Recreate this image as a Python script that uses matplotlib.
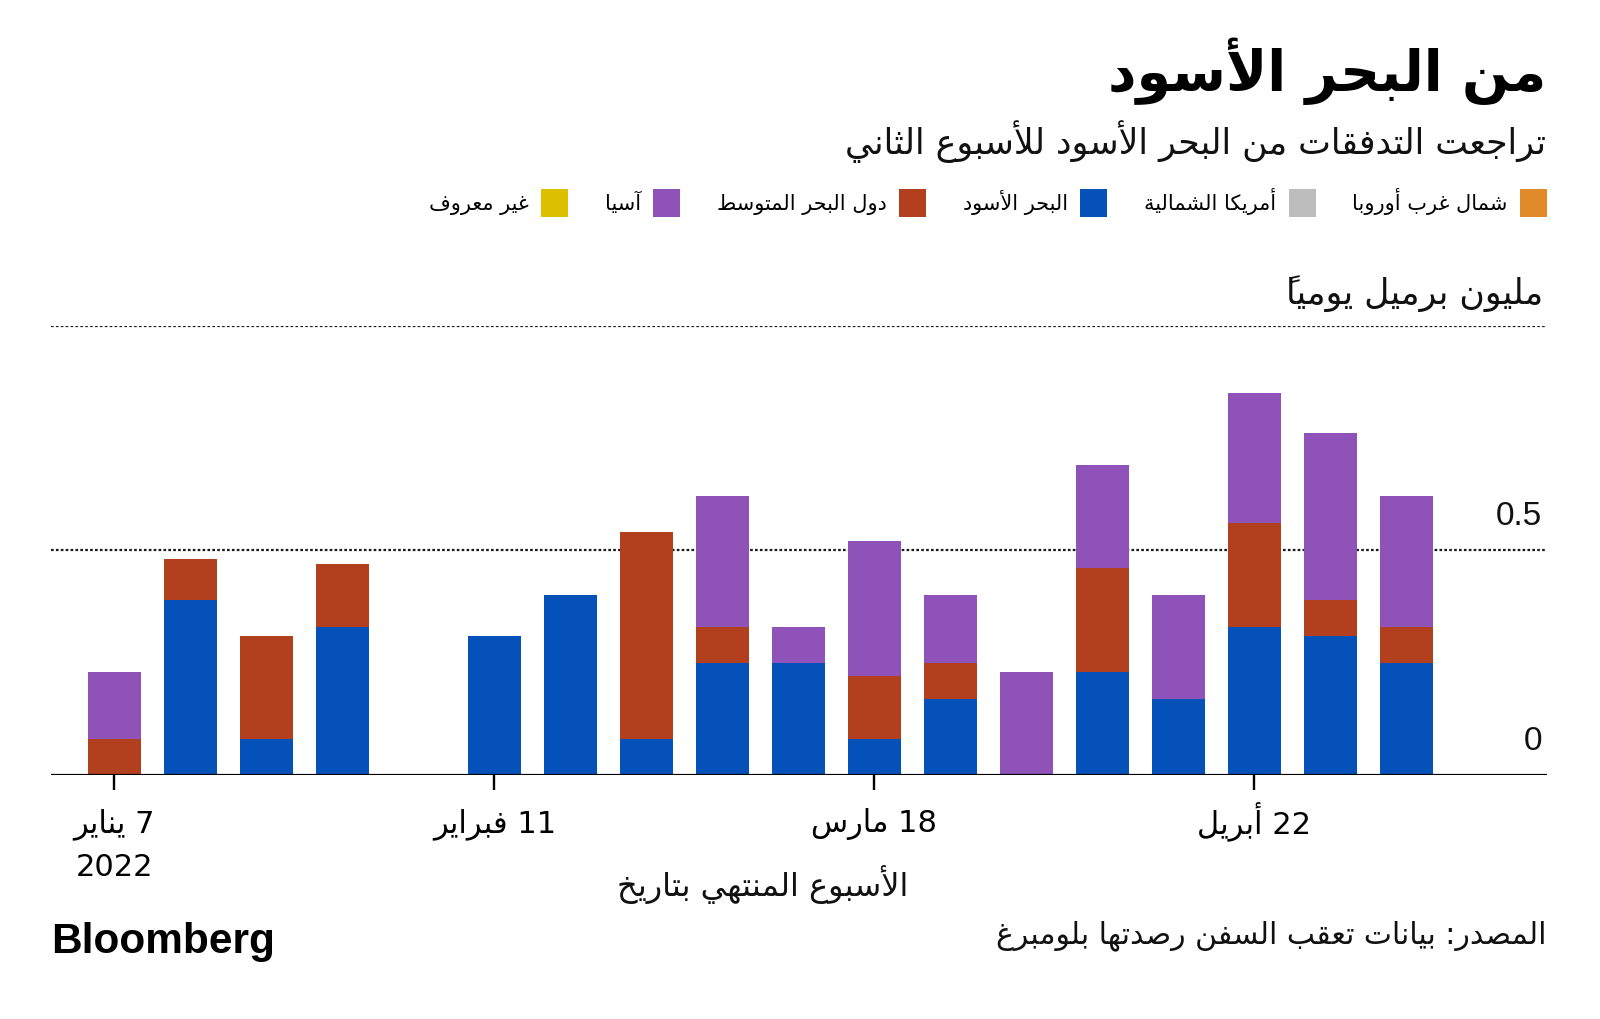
import re
import matplotlib
matplotlib.use('Agg')
import matplotlib.pyplot as plt
from matplotlib.patches import Patch
from matplotlib.transforms import blended_transform_factory, ScaledTranslation
import numpy as np

plt.rcParams['font.family'] = ['DejaVu Sans']

# ---------------- data ----------------
weeks = ['2022-01-07', '2022-01-14', '2022-01-21', '2022-01-28', '2022-02-04',
         '2022-02-11', '2022-02-18', '2022-02-25', '2022-03-04', '2022-03-11',
         '2022-03-18', '2022-03-25', '2022-04-01', '2022-04-08', '2022-04-15',
         '2022-04-22', '2022-04-29', '2022-05-06']
tick_weeks = ['2022-01-07', '2022-02-11', '2022-03-18', '2022-04-22']
tick_labels = ['7 يناير\n2022', '11 فبراير', '18 مارس', '22 أبريل']

series_names = ['شمال غرب أوروبا', 'أمريكا الشمالية', 'البحر الأسود',
                'دول البحر المتوسط', 'آسيا', 'غير معروف']
series_colors = ['#E08A2A', '#BDBDBD', '#0451B9', '#B2401E', '#8E52B8', '#DCC000']

nw_europe = [0, 0, 0, 0, 0, 0, 0, 0, 0, 0, 0, 0, 0, 0, 0, 0, 0, 0]
north_america = [0, 0, 0, 0, 0, 0, 0, 0, 0, 0, 0, 0, 0, 0, 0, 0, 0, 0]
black_sea = [0, 0.39, 0.08, 0.33, 0, 0.31, 0.40, 0.08, 0.25, 0.25,
             0.08, 0.17, 0, 0.23, 0.17, 0.33, 0.31, 0.25]
mediterranean = [0.08, 0.09, 0.23, 0.14, 0, 0, 0, 0.46, 0.08, 0,
                 0.14, 0.08, 0, 0.23, 0, 0.23, 0.08, 0.08]
asia = [0.15, 0, 0, 0, 0, 0, 0, 0, 0.29, 0.08,
        0.30, 0.15, 0.23, 0.23, 0.23, 0.29, 0.37, 0.29]
unknown = [0, 0, 0, 0, 0, 0, 0, 0, 0, 0, 0, 0, 0, 0, 0, 0, 0, 0]

y_ticks = [0, 0.5]
y_tick_labels = ['0', '0.5']

title = 'من البحر الأسود'
subtitle = 'تراجعت التدفقات من البحر الأسود للأسبوع الثاني'
unit_label = 'مليون برميل يومياً'
x_title = 'الأسبوع المنتهي بتاريخ'
source = 'المصدر: بيانات تعقب السفن رصدتها بلومبرغ'

# ------------- Arabic shaping (presentation forms + RTL order) -------------
_D = {'ئ': 0xFE89, 'ب': 0xFE8F, 'ت': 0xFE95, 'ث': 0xFE99, 'ج': 0xFE9D, 'ح': 0xFEA1,
      'خ': 0xFEA5, 'س': 0xFEB1, 'ش': 0xFEB5, 'ص': 0xFEB9, 'ض': 0xFEBD, 'ط': 0xFEC1,
      'ظ': 0xFEC5, 'ع': 0xFEC9, 'غ': 0xFECD, 'ف': 0xFED1, 'ق': 0xFED5, 'ك': 0xFED9,
      'ل': 0xFEDD, 'م': 0xFEE1, 'ن': 0xFEE5, 'ه': 0xFEE9, 'ي': 0xFEF1}
_R = {'آ': 0xFE81, 'أ': 0xFE83, 'ؤ': 0xFE85, 'إ': 0xFE87, 'ا': 0xFE8D, 'ة': 0xFE93,
      'د': 0xFEA9, 'ذ': 0xFEAB, 'ر': 0xFEAD, 'ز': 0xFEAF, 'و': 0xFEED, 'ى': 0xFEEF}
_LA = {'آ': 0xFEF5, 'أ': 0xFEF7, 'إ': 0xFEF9, 'ا': 0xFEFB}
_MARKS = set(chr(c) for c in range(0x064B, 0x0653))


def _shape(s):
    units = []
    i = 0
    while i < len(s):
        c = s[i]
        if c == 'ل' and i + 1 < len(s) and s[i + 1] in _LA:
            units.append(('LA', s[i + 1]))
            i += 2
            continue
        units.append(('C', c))
        i += 1

    def jt(u):
        kind, c = u
        if kind == 'LA':
            return 'R'
        if c in _D:
            return 'D'
        if c in _R:
            return 'R'
        if c in _MARKS:
            return 'T'
        return 'U'

    types = [jt(u) for u in units]
    out = []
    for k, u in enumerate(units):
        t = types[k]
        if t in ('T', 'U'):
            out.append(u[1])
            continue
        p = k - 1
        while p >= 0 and types[p] == 'T':
            p -= 1
        n = k + 1
        while n < len(units) and types[n] == 'T':
            n += 1
        jp = p >= 0 and types[p] == 'D'
        jn = t == 'D' and n < len(units) and types[n] in ('D', 'R')
        if u[0] == 'LA':
            out.append(chr(_LA[u[1]] + (1 if jp else 0)))
        elif t == 'R':
            out.append(chr(_R[u[1]] + (1 if jp else 0)))
        else:
            off = 3 if (jp and jn) else 1 if jp else 2 if jn else 0
            out.append(chr(_D[u[1]] + off))
    return ''.join(out)


def _rtl_run(s):
    # plain reversal: a zero-width mark then lands right before its base glyph,
    # which is where this font draws it over the base
    return s[::-1]


def ar(s):
    lines = []
    for line in s.split('\n'):
        shaped = _shape(line)
        parts = re.split(r'([0-9A-Za-z](?:[0-9A-Za-z.,]*[0-9A-Za-z])?)', shaped)
        vis = [p if idx % 2 == 1 else _rtl_run(p) for idx, p in enumerate(parts)]
        lines.append(''.join(reversed(vis)))
    return '\n'.join(lines)


# ---------------- figure ----------------
W, H = 1600, 1020
fig = plt.figure(figsize=(W / 100, H / 100), dpi=100)
fig.patch.set_facecolor('white')


def fx(px):
    return px / W


def fy(py):
    return 1 - py / H


ax = fig.add_axes([fx(51), fy(776), fx(1547) - fx(51), fy(326.5) - fy(776)])
ax.set_facecolor('white')

x = np.arange(len(weeks))
series = [nw_europe, north_america, black_sea, mediterranean, asia, unknown]
bottom = np.zeros(len(weeks))
for vals, col in zip(series, series_colors):
    v = np.array(vals, dtype=float)
    ax.bar(x, v, bottom=bottom, width=0.70, color=col, linewidth=0, zorder=2)
    bottom += v

ax.set_xlim(-0.835, 18.85)
ax.set_ylim(0, 1.0)

# gridlines
for yv in [0.5, 1.0]:
    ax.axhline(yv, color='#1a1a1a', linewidth=1.6, linestyle=(0, (1.2, 1.0)), zorder=1)
ax.axhline(0, color='black', linewidth=2.3, zorder=3)

for sp in ax.spines.values():
    sp.set_visible(False)

ax.set_yticks([])
tick_pos = [weeks.index(t) for t in tick_weeks]
ax.set_xticks(tick_pos)
ax.set_xticklabels([ar(t) for t in tick_labels], fontsize=22, linespacing=1.6)
ax.tick_params(axis='x', direction='out', length=11, width=1.7, color='black', pad=12)
# the hamza of "أبريل" makes that label taller; nudge it up so baselines align
for tick in ax.xaxis.get_major_ticks():
    lab = tick.label1
    if 'أبريل' in tick_labels[tick_pos.index(int(round(tick.get_loc())))]:
        lab.set_transform(lab.get_transform() +
                          ScaledTranslation(0, 5 / 72, fig.dpi_scale_trans))

tr = blended_transform_factory(ax.transAxes, ax.transData)
for yv, lab in zip(y_ticks, y_tick_labels):
    ax.annotate(lab, xy=(0.9967, yv), xycoords=tr, xytext=(0, 13.5),
                textcoords='offset points', ha='right', va='bottom',
                fontsize=24, family=['Liberation Sans', 'DejaVu Sans'], color='#111111')

# titles & texts
fig.text(fx(1546), fy(71), ar(title), ha='right', va='center', fontsize=40,
         fontweight='heavy', color='black')
fig.text(fx(1546), fy(142), ar(subtitle), ha='right', va='center', fontsize=25,
         color='#111111')
fig.text(fx(1543), fy(294), ar(unit_label), ha='right', va='center', fontsize=25,
         color='#111111')
fig.text(fx(763), fy(884), ar(x_title), ha='center', va='center', fontsize=23,
         color='#111111')
fig.text(fx(1546), fy(936), ar(source), ha='right', va='center', fontsize=21.5,
         color='#111111')
fig.text(fx(51), fy(942), 'Bloomberg', ha='left', va='center', fontsize=30.5,
         fontweight='heavy', family=['Liberation Sans', 'DejaVu Sans'], color='black')

# legend (right-to-left)
handles = [Patch(facecolor=c, edgecolor='none') for c in series_colors]
labels = [ar(n) for n in series_names]
order = list(reversed(range(len(series_names))))
fig.legend([handles[i] for i in order], [labels[i] for i in order],
           loc='center right', bbox_to_anchor=(fx(1547), fy(203)), ncol=6,
           frameon=False, markerfirst=False, fontsize=15, handlelength=1.3,
           handleheight=1.7, handletextpad=0.6, columnspacing=1.75,
           borderpad=0, borderaxespad=0)

fig.savefig('out.png', dpi=100, facecolor='white')
